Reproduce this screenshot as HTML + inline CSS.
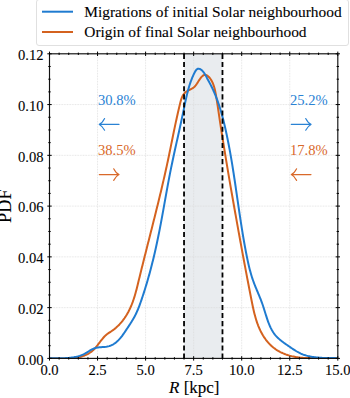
<!DOCTYPE html>
<html><head><meta charset="utf-8"><style>
html,body{margin:0;padding:0;background:#fff;width:350px;height:398px;overflow:hidden}
body{position:relative;font-family:"Liberation Serif",serif;color:#000}
.t{position:absolute;white-space:nowrap;line-height:1;-webkit-text-stroke:0.1px currentColor}
.yl{font-size:14.6px;text-align:right;width:40px;left:3.5px}
.xl{font-size:14.6px;text-align:center;width:40px}
.pc{font-size:14.6px;-webkit-text-stroke:0}
</style></head><body>
<svg width="350" height="398" style="position:absolute;left:0;top:0">
<rect x="184.04" y="53.8" width="38.44" height="304.60" fill="#e9ecef"/>
<line x1="97.55" y1="53.8" x2="97.55" y2="358.4" stroke="#dadada" stroke-width="0.8" stroke-dasharray="0.8,0.8"/>
<line x1="145.60" y1="53.8" x2="145.60" y2="358.4" stroke="#dadada" stroke-width="0.8" stroke-dasharray="0.8,0.8"/>
<line x1="193.65" y1="53.8" x2="193.65" y2="358.4" stroke="#dadada" stroke-width="0.8" stroke-dasharray="0.8,0.8"/>
<line x1="241.70" y1="53.8" x2="241.70" y2="358.4" stroke="#dadada" stroke-width="0.8" stroke-dasharray="0.8,0.8"/>
<line x1="289.75" y1="53.8" x2="289.75" y2="358.4" stroke="#dadada" stroke-width="0.8" stroke-dasharray="0.8,0.8"/>
<line x1="49.5" y1="307.63" x2="337.8" y2="307.63" stroke="#dadada" stroke-width="0.8" stroke-dasharray="0.8,0.8"/>
<line x1="49.5" y1="256.87" x2="337.8" y2="256.87" stroke="#dadada" stroke-width="0.8" stroke-dasharray="0.8,0.8"/>
<line x1="49.5" y1="206.10" x2="337.8" y2="206.10" stroke="#dadada" stroke-width="0.8" stroke-dasharray="0.8,0.8"/>
<line x1="49.5" y1="155.33" x2="337.8" y2="155.33" stroke="#dadada" stroke-width="0.8" stroke-dasharray="0.8,0.8"/>
<line x1="49.5" y1="104.57" x2="337.8" y2="104.57" stroke="#dadada" stroke-width="0.8" stroke-dasharray="0.8,0.8"/>
<defs><clipPath id="cp"><rect x="49.5" y="53.8" width="288.30" height="304.60"/></clipPath></defs>
<g clip-path="url(#cp)">
<path d="M49.52,358.29 L50.42,358.32 L51.33,358.36 L52.26,358.39 L53.20,358.43 L54.16,358.46 L55.13,358.50 L56.11,358.53 L57.10,358.57 L58.10,358.59 L59.12,358.62 L60.13,358.64 L61.16,358.65 L62.19,358.66 L63.23,358.66 L64.27,358.65 L65.32,358.64 L66.36,358.61 L67.41,358.57 L68.46,358.52 L69.51,358.46 L70.56,358.38 L71.61,358.29 L72.65,358.19 L73.69,358.07 L74.72,357.93 L75.75,357.77 L76.77,357.60 L77.79,357.41 L78.79,357.20 L79.79,356.96 L80.78,356.70 L81.75,356.43 L82.71,356.12 L83.66,355.80 L84.60,355.45 L85.52,355.07 L86.42,354.66 L87.31,354.23 L88.18,353.77 L89.03,353.28 L89.86,352.75 L90.67,352.20 L91.46,351.62 L92.23,351.00 L92.98,350.35 L93.70,349.66 L94.40,348.95 L95.08,348.21 L95.75,347.45 L96.40,346.66 L97.04,345.86 L97.67,345.05 L98.30,344.23 L98.92,343.41 L99.54,342.58 L100.16,341.75 L100.78,340.93 L101.41,340.12 L102.04,339.31 L102.69,338.53 L103.34,337.76 L104.01,337.01 L104.70,336.29 L105.41,335.59 L106.14,334.93 L106.89,334.31 L107.67,333.72 L108.46,333.15 L109.27,332.61 L110.09,332.07 L110.92,331.54 L111.74,330.99 L112.56,330.43 L113.37,329.85 L114.17,329.25 L114.95,328.62 L115.73,327.97 L116.49,327.30 L117.25,326.61 L117.99,325.90 L118.71,325.18 L119.43,324.44 L120.13,323.68 L120.81,322.91 L121.49,322.12 L122.14,321.32 L122.79,320.51 L123.41,319.69 L124.02,318.86 L124.62,318.02 L125.19,317.17 L125.76,316.31 L126.30,315.45 L126.83,314.59 L127.34,313.71 L127.83,312.83 L128.32,311.95 L128.78,311.06 L129.23,310.16 L129.67,309.26 L130.10,308.35 L130.51,307.44 L130.91,306.52 L131.30,305.60 L131.68,304.68 L132.04,303.75 L132.40,302.81 L132.75,301.88 L133.08,300.93 L133.41,299.99 L133.73,299.04 L134.04,298.09 L134.34,297.13 L134.63,296.18 L134.92,295.22 L135.20,294.25 L135.48,293.29 L135.75,292.32 L136.01,291.35 L136.27,290.38 L136.53,289.40 L136.78,288.43 L137.03,287.45 L137.27,286.48 L137.52,285.50 L137.76,284.52 L138.00,283.54 L138.23,282.56 L138.47,281.58 L138.71,280.60 L138.95,279.61 L139.18,278.63 L139.42,277.65 L139.66,276.67 L139.90,275.69 L140.14,274.71 L140.38,273.73 L140.62,272.75 L140.86,271.77 L141.11,270.79 L141.35,269.81 L141.59,268.83 L141.83,267.85 L142.08,266.87 L142.32,265.89 L142.56,264.91 L142.81,263.92 L143.05,262.94 L143.30,261.96 L143.54,260.98 L143.79,260.01 L144.03,259.03 L144.28,258.05 L144.53,257.07 L144.77,256.09 L145.02,255.11 L145.27,254.13 L145.51,253.15 L145.76,252.17 L146.01,251.19 L146.25,250.21 L146.50,249.23 L146.75,248.25 L147.00,247.27 L147.25,246.29 L147.49,245.31 L147.74,244.33 L147.99,243.35 L148.24,242.37 L148.49,241.39 L148.74,240.41 L148.98,239.43 L149.23,238.46 L149.48,237.48 L149.73,236.50 L149.98,235.52 L150.23,234.54 L150.47,233.56 L150.72,232.58 L150.97,231.60 L151.22,230.62 L151.47,229.64 L151.71,228.66 L151.96,227.68 L152.21,226.70 L152.46,225.72 L152.70,224.74 L152.95,223.76 L153.20,222.78 L153.44,221.81 L153.69,220.83 L153.94,219.85 L154.18,218.87 L154.43,217.89 L154.67,216.91 L154.92,215.93 L155.16,214.95 L155.41,213.97 L155.65,212.99 L155.90,212.01 L156.14,211.03 L156.38,210.05 L156.63,209.07 L156.87,208.09 L157.11,207.11 L157.35,206.13 L157.59,205.15 L157.84,204.17 L158.08,203.19 L158.32,202.20 L158.56,201.22 L158.79,200.24 L159.03,199.26 L159.27,198.28 L159.51,197.30 L159.75,196.32 L159.98,195.34 L160.22,194.36 L160.45,193.38 L160.69,192.39 L160.92,191.41 L161.16,190.43 L161.39,189.45 L161.62,188.47 L161.85,187.49 L162.08,186.50 L162.31,185.52 L162.54,184.54 L162.77,183.56 L163.00,182.58 L163.23,181.59 L163.46,180.61 L163.68,179.63 L163.91,178.64 L164.13,177.66 L164.36,176.68 L164.58,175.70 L164.80,174.71 L165.02,173.73 L165.24,172.74 L165.46,171.76 L165.68,170.78 L165.90,169.79 L166.12,168.81 L166.34,167.82 L166.55,166.84 L166.77,165.86 L166.98,164.87 L167.19,163.89 L167.40,162.90 L167.62,161.92 L167.82,160.93 L168.03,159.95 L168.24,158.96 L168.45,157.97 L168.66,156.99 L168.86,156.00 L169.07,155.02 L169.27,154.03 L169.47,153.04 L169.68,152.06 L169.88,151.07 L170.08,150.08 L170.28,149.10 L170.48,148.11 L170.68,147.12 L170.88,146.13 L171.08,145.15 L171.28,144.16 L171.48,143.17 L171.68,142.18 L171.88,141.20 L172.08,140.21 L172.29,139.22 L172.49,138.23 L172.69,137.24 L172.89,136.25 L173.09,135.26 L173.29,134.28 L173.50,133.29 L173.70,132.30 L173.90,131.31 L174.11,130.32 L174.31,129.33 L174.52,128.34 L174.73,127.35 L174.93,126.36 L175.14,125.37 L175.35,124.38 L175.56,123.39 L175.78,122.40 L175.99,121.41 L176.20,120.42 L176.42,119.43 L176.64,118.44 L176.85,117.45 L177.07,116.46 L177.30,115.47 L177.52,114.48 L177.74,113.49 L177.97,112.50 L178.20,111.51 L178.43,110.52 L178.66,109.53 L178.90,108.54 L179.13,107.55 L179.37,106.56 L179.61,105.57 L179.85,104.57 L180.10,103.58 L180.34,102.59 L180.59,101.60 L180.86,100.62 L181.14,99.65 L181.45,98.69 L181.79,97.75 L182.16,96.84 L182.59,95.96 L183.07,95.11 L183.61,94.31 L184.22,93.54 L184.90,92.83 L185.66,92.16 L186.48,91.55 L187.34,90.99 L188.23,90.48 L189.14,90.01 L190.05,89.56 L190.96,89.10 L191.85,88.63 L192.70,88.12 L193.52,87.56 L194.27,86.93 L194.98,86.22 L195.64,85.46 L196.26,84.64 L196.86,83.78 L197.44,82.89 L198.01,81.98 L198.59,81.05 L199.18,80.13 L199.79,79.21 L200.43,78.31 L201.11,77.44 L201.84,76.63 L202.59,75.93 L203.36,75.37 L204.15,75.02 L204.93,74.88 L205.71,74.95 L206.47,75.20 L207.22,75.60 L207.95,76.13 L208.65,76.76 L209.31,77.47 L209.94,78.24 L210.52,79.03 L211.07,79.86 L211.58,80.71 L212.05,81.59 L212.49,82.49 L212.89,83.42 L213.27,84.36 L213.61,85.32 L213.93,86.30 L214.23,87.29 L214.51,88.29 L214.77,89.30 L215.00,90.32 L215.23,91.34 L215.44,92.37 L215.64,93.39 L215.83,94.42 L216.01,95.44 L216.19,96.46 L216.36,97.48 L216.53,98.49 L216.69,99.49 L216.85,100.50 L217.01,101.50 L217.16,102.50 L217.32,103.49 L217.47,104.49 L217.61,105.48 L217.76,106.47 L217.90,107.46 L218.05,108.45 L218.19,109.44 L218.34,110.43 L218.48,111.42 L218.63,112.41 L218.78,113.40 L218.92,114.39 L219.07,115.38 L219.22,116.37 L219.37,117.36 L219.51,118.36 L219.66,119.35 L219.81,120.34 L219.96,121.33 L220.11,122.32 L220.26,123.32 L220.42,124.31 L220.57,125.30 L220.72,126.29 L220.87,127.29 L221.02,128.28 L221.18,129.27 L221.33,130.27 L221.49,131.26 L221.64,132.26 L221.80,133.25 L221.95,134.24 L222.11,135.24 L222.26,136.23 L222.42,137.23 L222.58,138.22 L222.74,139.22 L222.89,140.21 L223.05,141.21 L223.21,142.20 L223.37,143.20 L223.53,144.19 L223.69,145.19 L223.85,146.19 L224.01,147.18 L224.17,148.18 L224.33,149.17 L224.49,150.17 L224.66,151.17 L224.82,152.16 L224.98,153.16 L225.14,154.16 L225.31,155.15 L225.47,156.15 L225.63,157.15 L225.80,158.14 L225.96,159.14 L226.13,160.14 L226.29,161.13 L226.46,162.13 L226.63,163.13 L226.79,164.13 L226.96,165.12 L227.13,166.12 L227.29,167.12 L227.46,168.11 L227.63,169.11 L227.80,170.11 L227.96,171.11 L228.13,172.10 L228.30,173.10 L228.47,174.10 L228.64,175.10 L228.81,176.09 L228.98,177.09 L229.15,178.09 L229.32,179.09 L229.49,180.08 L229.66,181.08 L229.83,182.08 L230.01,183.07 L230.18,184.07 L230.35,185.07 L230.52,186.07 L230.69,187.06 L230.87,188.06 L231.04,189.06 L231.21,190.05 L231.39,191.05 L231.56,192.05 L231.73,193.04 L231.91,194.04 L232.08,195.04 L232.26,196.03 L232.43,197.03 L232.61,198.03 L232.78,199.02 L232.96,200.02 L233.13,201.01 L233.31,202.01 L233.48,203.00 L233.66,204.00 L233.84,205.00 L234.01,205.99 L234.19,206.99 L234.36,207.98 L234.54,208.98 L234.72,209.97 L234.90,210.97 L235.07,211.96 L235.25,212.95 L235.43,213.95 L235.61,214.94 L235.78,215.94 L235.96,216.93 L236.14,217.92 L236.32,218.92 L236.50,219.91 L236.67,220.90 L236.85,221.90 L237.03,222.89 L237.21,223.88 L237.39,224.87 L237.57,225.87 L237.75,226.86 L237.93,227.85 L238.11,228.84 L238.28,229.83 L238.46,230.82 L238.64,231.82 L238.82,232.81 L239.00,233.80 L239.18,234.79 L239.36,235.78 L239.54,236.77 L239.72,237.76 L239.90,238.75 L240.08,239.74 L240.26,240.72 L240.44,241.71 L240.63,242.70 L240.81,243.69 L240.99,244.68 L241.17,245.67 L241.35,246.66 L241.53,247.65 L241.71,248.64 L241.90,249.62 L242.08,250.61 L242.26,251.60 L242.44,252.59 L242.62,253.58 L242.81,254.57 L242.99,255.56 L243.17,256.54 L243.36,257.53 L243.54,258.52 L243.73,259.51 L243.91,260.50 L244.09,261.49 L244.28,262.48 L244.46,263.47 L244.65,264.46 L244.83,265.44 L245.02,266.43 L245.21,267.42 L245.39,268.41 L245.58,269.40 L245.77,270.39 L245.95,271.38 L246.14,272.37 L246.33,273.36 L246.52,274.36 L246.71,275.35 L246.89,276.34 L247.08,277.33 L247.27,278.32 L247.46,279.31 L247.65,280.30 L247.84,281.30 L248.03,282.29 L248.22,283.28 L248.42,284.28 L248.61,285.27 L248.80,286.26 L248.99,287.26 L249.19,288.25 L249.38,289.25 L249.57,290.24 L249.77,291.24 L249.96,292.24 L250.16,293.23 L250.35,294.23 L250.55,295.23 L250.74,296.22 L250.94,297.22 L251.14,298.22 L251.33,299.22 L251.53,300.22 L251.73,301.22 L251.93,302.22 L252.13,303.22 L252.34,304.22 L252.54,305.22 L252.75,306.21 L252.96,307.21 L253.18,308.21 L253.40,309.20 L253.63,310.19 L253.86,311.18 L254.09,312.17 L254.33,313.15 L254.58,314.14 L254.83,315.11 L255.10,316.09 L255.36,317.06 L255.64,318.03 L255.93,319.00 L256.22,319.96 L256.52,320.91 L256.84,321.86 L257.16,322.81 L257.49,323.75 L257.84,324.69 L258.19,325.62 L258.56,326.54 L258.94,327.46 L259.33,328.37 L259.74,329.28 L260.16,330.18 L260.59,331.07 L261.04,331.96 L261.50,332.83 L261.98,333.70 L262.47,334.57 L262.97,335.42 L263.50,336.26 L264.03,337.10 L264.59,337.92 L265.16,338.73 L265.74,339.53 L266.34,340.32 L266.96,341.10 L267.59,341.86 L268.24,342.61 L268.91,343.35 L269.59,344.07 L270.29,344.78 L271.01,345.47 L271.74,346.14 L272.49,346.80 L273.25,347.44 L274.03,348.06 L274.83,348.66 L275.65,349.25 L276.48,349.81 L277.34,350.36 L278.20,350.88 L279.09,351.38 L279.99,351.87 L280.90,352.33 L281.83,352.77 L282.77,353.20 L283.72,353.60 L284.68,353.98 L285.65,354.35 L286.62,354.69 L287.60,355.02 L288.59,355.33 L289.58,355.62 L290.58,355.88 L291.57,356.14 L292.57,356.37 L293.56,356.58 L294.56,356.78 L295.55,356.96 L296.55,357.13 L297.54,357.28 L298.54,357.41 L299.53,357.53 L300.53,357.64 L301.52,357.73 L302.52,357.82 L303.52,357.89 L304.51,357.95 L305.51,358.00 L306.51,358.04 L307.50,358.07 L308.50,358.10 L309.50,358.11 L310.50,358.12 L311.50,358.13 L312.50,358.13 L313.50,358.12 L314.50,358.11 L315.50,358.10 L316.50,358.08 L317.51,358.06 L318.51,358.05 L319.52,358.03 L320.52,358.01 L321.53,357.99 L322.54,357.97 L323.55,357.95 L324.56,357.94 L325.57,357.93 L326.58,357.92 L327.60,357.92 L328.61,357.93 L329.63,357.94 L330.65,357.95 L331.66,357.98 L332.69,358.01 L333.71,358.05 L334.73,358.10 L335.76,358.16 L336.78,358.23 L337.81,358.31" fill="none" stroke="#d4621f" stroke-width="2" stroke-linejoin="round"/>
<path d="M49.50,358.31 L50.51,358.29 L51.51,358.27 L52.52,358.25 L53.53,358.25 L54.55,358.24 L55.57,358.24 L56.59,358.24 L57.61,358.24 L58.63,358.24 L59.65,358.24 L60.67,358.23 L61.70,358.22 L62.72,358.20 L63.74,358.18 L64.76,358.14 L65.78,358.10 L66.80,358.05 L67.82,357.98 L68.83,357.91 L69.84,357.81 L70.85,357.71 L71.86,357.58 L72.86,357.44 L73.85,357.28 L74.85,357.09 L75.83,356.89 L76.81,356.66 L77.79,356.41 L78.75,356.13 L79.71,355.83 L80.67,355.50 L81.61,355.14 L82.54,354.75 L83.47,354.33 L84.38,353.87 L85.29,353.38 L86.18,352.87 L87.07,352.34 L87.96,351.80 L88.85,351.25 L89.73,350.72 L90.62,350.20 L91.52,349.70 L92.43,349.23 L93.34,348.80 L94.27,348.42 L95.22,348.09 L96.18,347.83 L97.16,347.62 L98.16,347.46 L99.16,347.34 L100.18,347.25 L101.20,347.17 L102.22,347.11 L103.24,347.04 L104.26,346.97 L105.27,346.88 L106.28,346.76 L107.27,346.60 L108.25,346.39 L109.22,346.12 L110.16,345.80 L111.09,345.42 L112.00,344.99 L112.89,344.52 L113.76,344.00 L114.60,343.44 L115.43,342.84 L116.23,342.21 L117.00,341.55 L117.75,340.86 L118.47,340.16 L119.17,339.43 L119.85,338.68 L120.51,337.92 L121.14,337.13 L121.77,336.34 L122.37,335.53 L122.97,334.71 L123.55,333.88 L124.13,333.05 L124.70,332.21 L125.27,331.36 L125.83,330.51 L126.39,329.66 L126.96,328.80 L127.52,327.95 L128.09,327.10 L128.65,326.24 L129.22,325.39 L129.78,324.53 L130.33,323.67 L130.88,322.81 L131.43,321.94 L131.96,321.07 L132.49,320.20 L133.01,319.32 L133.53,318.44 L134.03,317.56 L134.52,316.67 L134.99,315.77 L135.45,314.87 L135.90,313.96 L136.34,313.05 L136.76,312.13 L137.17,311.20 L137.57,310.27 L137.96,309.34 L138.35,308.40 L138.72,307.46 L139.08,306.52 L139.44,305.57 L139.79,304.62 L140.13,303.67 L140.47,302.71 L140.81,301.76 L141.14,300.80 L141.47,299.84 L141.80,298.88 L142.12,297.92 L142.44,296.96 L142.76,296.00 L143.08,295.03 L143.40,294.07 L143.71,293.11 L144.02,292.14 L144.33,291.18 L144.63,290.21 L144.94,289.24 L145.24,288.27 L145.54,287.30 L145.83,286.33 L146.13,285.36 L146.42,284.39 L146.71,283.42 L147.00,282.44 L147.29,281.47 L147.57,280.50 L147.85,279.52 L148.13,278.55 L148.41,277.57 L148.68,276.59 L148.96,275.61 L149.23,274.64 L149.50,273.66 L149.76,272.68 L150.03,271.70 L150.29,270.72 L150.55,269.73 L150.81,268.75 L151.07,267.77 L151.33,266.79 L151.58,265.80 L151.83,264.82 L152.08,263.83 L152.33,262.85 L152.57,261.86 L152.82,260.88 L153.06,259.89 L153.30,258.90 L153.54,257.91 L153.78,256.93 L154.01,255.94 L154.24,254.95 L154.48,253.96 L154.71,252.97 L154.93,251.98 L155.16,250.98 L155.39,249.99 L155.61,249.00 L155.83,248.01 L156.05,247.02 L156.27,246.02 L156.48,245.03 L156.70,244.04 L156.91,243.04 L157.12,242.05 L157.33,241.05 L157.54,240.06 L157.75,239.06 L157.96,238.06 L158.16,237.07 L158.36,236.07 L158.56,235.07 L158.77,234.08 L158.96,233.08 L159.16,232.08 L159.36,231.09 L159.55,230.09 L159.75,229.09 L159.94,228.09 L160.13,227.09 L160.32,226.09 L160.51,225.09 L160.70,224.09 L160.89,223.10 L161.08,222.10 L161.26,221.10 L161.45,220.10 L161.64,219.10 L161.82,218.10 L162.00,217.10 L162.19,216.10 L162.37,215.09 L162.55,214.09 L162.73,213.09 L162.91,212.09 L163.10,211.09 L163.28,210.09 L163.46,209.09 L163.64,208.09 L163.82,207.09 L163.99,206.09 L164.17,205.09 L164.35,204.09 L164.53,203.09 L164.71,202.09 L164.89,201.09 L165.07,200.08 L165.25,199.08 L165.43,198.08 L165.61,197.08 L165.79,196.08 L165.97,195.08 L166.15,194.08 L166.33,193.08 L166.51,192.08 L166.69,191.08 L166.87,190.08 L167.05,189.08 L167.24,188.09 L167.42,187.09 L167.60,186.09 L167.79,185.09 L167.97,184.09 L168.16,183.09 L168.35,182.09 L168.53,181.10 L168.72,180.10 L168.91,179.10 L169.10,178.11 L169.29,177.11 L169.48,176.11 L169.68,175.12 L169.87,174.12 L170.07,173.13 L170.26,172.13 L170.46,171.14 L170.66,170.14 L170.86,169.15 L171.06,168.15 L171.26,167.16 L171.47,166.17 L171.67,165.17 L171.88,164.18 L172.09,163.19 L172.29,162.20 L172.50,161.20 L172.71,160.21 L172.92,159.22 L173.14,158.23 L173.35,157.24 L173.56,156.25 L173.77,155.26 L173.99,154.27 L174.20,153.28 L174.42,152.28 L174.64,151.29 L174.85,150.30 L175.07,149.31 L175.29,148.32 L175.51,147.33 L175.73,146.34 L175.95,145.35 L176.16,144.36 L176.38,143.37 L176.60,142.38 L176.82,141.39 L177.04,140.40 L177.27,139.41 L177.49,138.42 L177.71,137.43 L177.93,136.44 L178.15,135.45 L178.37,134.46 L178.59,133.46 L178.81,132.47 L179.03,131.48 L179.25,130.49 L179.47,129.50 L179.69,128.50 L179.91,127.51 L180.12,126.52 L180.34,125.53 L180.56,124.53 L180.78,123.54 L180.99,122.54 L181.21,121.55 L181.43,120.55 L181.64,119.56 L181.86,118.56 L182.07,117.57 L182.28,116.57 L182.49,115.57 L182.71,114.58 L182.92,113.58 L183.13,112.58 L183.33,111.58 L183.54,110.58 L183.75,109.58 L183.95,108.58 L184.16,107.58 L184.36,106.58 L184.57,105.58 L184.78,104.58 L184.98,103.58 L185.19,102.58 L185.40,101.58 L185.62,100.58 L185.83,99.58 L186.05,98.59 L186.27,97.59 L186.50,96.60 L186.73,95.60 L186.96,94.61 L187.20,93.62 L187.45,92.64 L187.70,91.65 L187.96,90.67 L188.22,89.69 L188.50,88.71 L188.77,87.73 L189.06,86.76 L189.36,85.79 L189.66,84.82 L189.97,83.86 L190.30,82.90 L190.63,81.95 L190.97,80.99 L191.32,80.04 L191.69,79.10 L192.06,78.16 L192.45,77.22 L192.85,76.29 L193.26,75.37 L193.69,74.44 L194.13,73.53 L194.58,72.62 L195.05,71.72 L195.55,70.88 L196.08,70.13 L196.66,69.50 L197.29,69.03 L197.98,68.75 L198.75,68.70 L199.57,68.88 L200.43,69.27 L201.29,69.85 L202.12,70.57 L202.92,71.41 L203.67,72.33 L204.35,73.28 L204.97,74.24 L205.52,75.20 L206.03,76.15 L206.52,77.09 L206.99,78.02 L207.46,78.94 L207.94,79.84 L208.43,80.73 L208.92,81.61 L209.40,82.49 L209.88,83.37 L210.35,84.26 L210.81,85.15 L211.26,86.05 L211.71,86.95 L212.15,87.85 L212.58,88.76 L213.00,89.67 L213.42,90.58 L213.83,91.50 L214.23,92.42 L214.63,93.35 L215.02,94.28 L215.40,95.21 L215.77,96.15 L216.14,97.08 L216.51,98.02 L216.86,98.97 L217.21,99.92 L217.56,100.87 L217.90,101.82 L218.23,102.77 L218.56,103.73 L218.88,104.69 L219.19,105.65 L219.51,106.62 L219.81,107.58 L220.11,108.55 L220.41,109.52 L220.70,110.50 L220.99,111.47 L221.27,112.45 L221.55,113.43 L221.82,114.41 L222.09,115.39 L222.36,116.37 L222.62,117.35 L222.88,118.34 L223.13,119.33 L223.38,120.32 L223.63,121.30 L223.87,122.29 L224.12,123.29 L224.35,124.28 L224.59,125.27 L224.82,126.26 L225.05,127.26 L225.28,128.25 L225.50,129.25 L225.72,130.24 L225.94,131.24 L226.16,132.23 L226.37,133.23 L226.59,134.22 L226.80,135.22 L227.01,136.22 L227.21,137.21 L227.42,138.21 L227.62,139.21 L227.82,140.21 L228.02,141.20 L228.22,142.20 L228.41,143.20 L228.61,144.20 L228.80,145.20 L228.99,146.20 L229.18,147.20 L229.37,148.19 L229.55,149.19 L229.73,150.19 L229.92,151.19 L230.10,152.19 L230.28,153.19 L230.45,154.19 L230.63,155.19 L230.80,156.19 L230.98,157.19 L231.15,158.20 L231.32,159.20 L231.49,160.20 L231.66,161.20 L231.83,162.20 L231.99,163.20 L232.16,164.20 L232.32,165.21 L232.48,166.21 L232.64,167.21 L232.81,168.21 L232.96,169.21 L233.12,170.22 L233.28,171.22 L233.44,172.22 L233.59,173.22 L233.75,174.23 L233.90,175.23 L234.06,176.23 L234.21,177.24 L234.36,178.24 L234.51,179.24 L234.67,180.25 L234.82,181.25 L234.97,182.25 L235.12,183.26 L235.26,184.26 L235.41,185.26 L235.56,186.27 L235.71,187.27 L235.86,188.28 L236.00,189.28 L236.15,190.28 L236.30,191.29 L236.44,192.29 L236.59,193.30 L236.73,194.30 L236.88,195.31 L237.03,196.31 L237.17,197.31 L237.32,198.32 L237.46,199.32 L237.61,200.33 L237.75,201.33 L237.90,202.34 L238.05,203.34 L238.19,204.34 L238.34,205.35 L238.49,206.35 L238.63,207.36 L238.78,208.36 L238.93,209.37 L239.07,210.37 L239.22,211.38 L239.37,212.38 L239.52,213.38 L239.67,214.39 L239.82,215.39 L239.97,216.40 L240.12,217.40 L240.27,218.40 L240.43,219.41 L240.58,220.41 L240.73,221.42 L240.89,222.42 L241.04,223.42 L241.20,224.43 L241.36,225.43 L241.52,226.44 L241.67,227.44 L241.83,228.44 L242.00,229.45 L242.16,230.45 L242.32,231.45 L242.48,232.46 L242.65,233.46 L242.82,234.46 L242.98,235.46 L243.15,236.47 L243.32,237.47 L243.49,238.47 L243.67,239.47 L243.84,240.48 L244.02,241.48 L244.19,242.48 L244.37,243.48 L244.55,244.48 L244.73,245.49 L244.91,246.49 L245.10,247.49 L245.28,248.49 L245.47,249.49 L245.66,250.49 L245.85,251.49 L246.04,252.49 L246.24,253.49 L246.44,254.49 L246.63,255.49 L246.83,256.49 L247.04,257.49 L247.24,258.49 L247.45,259.49 L247.66,260.49 L247.87,261.48 L248.09,262.48 L248.31,263.47 L248.54,264.47 L248.77,265.46 L249.00,266.45 L249.24,267.43 L249.48,268.42 L249.73,269.40 L249.99,270.38 L250.25,271.36 L250.52,272.34 L250.79,273.31 L251.07,274.28 L251.36,275.25 L251.66,276.22 L251.96,277.18 L252.27,278.13 L252.59,279.09 L252.91,280.04 L253.25,280.99 L253.59,281.93 L253.94,282.87 L254.30,283.81 L254.66,284.74 L255.03,285.68 L255.40,286.61 L255.78,287.54 L256.16,288.47 L256.55,289.40 L256.93,290.32 L257.32,291.25 L257.71,292.18 L258.10,293.11 L258.49,294.05 L258.87,294.98 L259.26,295.92 L259.64,296.85 L260.03,297.80 L260.40,298.74 L260.78,299.69 L261.15,300.64 L261.51,301.60 L261.87,302.56 L262.22,303.53 L262.56,304.50 L262.90,305.48 L263.23,306.46 L263.55,307.45 L263.87,308.44 L264.18,309.43 L264.49,310.43 L264.80,311.43 L265.11,312.43 L265.42,313.43 L265.73,314.43 L266.04,315.42 L266.35,316.42 L266.67,317.41 L266.99,318.39 L267.32,319.38 L267.66,320.35 L268.00,321.32 L268.36,322.29 L268.72,323.24 L269.10,324.19 L269.49,325.13 L269.89,326.05 L270.31,326.97 L270.74,327.87 L271.19,328.76 L271.66,329.64 L272.15,330.51 L272.65,331.36 L273.18,332.19 L273.73,333.00 L274.30,333.80 L274.90,334.59 L275.52,335.35 L276.17,336.09 L276.84,336.81 L277.53,337.52 L278.25,338.21 L278.98,338.88 L279.74,339.55 L280.51,340.19 L281.30,340.83 L282.10,341.45 L282.91,342.07 L283.73,342.68 L284.56,343.27 L285.40,343.87 L286.24,344.46 L287.09,345.04 L287.94,345.63 L288.79,346.21 L289.63,346.79 L290.48,347.37 L291.32,347.95 L292.17,348.52 L293.02,349.09 L293.87,349.64 L294.72,350.19 L295.58,350.73 L296.44,351.25 L297.31,351.75 L298.18,352.24 L299.06,352.71 L299.96,353.15 L300.86,353.58 L301.77,353.97 L302.69,354.34 L303.62,354.69 L304.57,355.02 L305.52,355.32 L306.47,355.61 L307.44,355.87 L308.41,356.11 L309.40,356.33 L310.38,356.54 L311.38,356.73 L312.37,356.90 L313.38,357.05 L314.39,357.19 L315.40,357.32 L316.42,357.43 L317.44,357.53 L318.46,357.62 L319.48,357.70 L320.51,357.77 L321.54,357.83 L322.57,357.88 L323.60,357.92 L324.63,357.96 L325.65,357.99 L326.68,358.01 L327.71,358.03 L328.73,358.05 L329.76,358.06 L330.78,358.07 L331.79,358.08 L332.81,358.09 L333.81,358.10 L334.82,358.11 L335.82,358.13 L336.81,358.14 L337.80,358.16" fill="none" stroke="#1f7bd0" stroke-width="2" stroke-linejoin="round"/>
</g>
<line x1="184.04" y1="53.8" x2="184.04" y2="358.4" stroke="#000" stroke-width="1.8" stroke-dasharray="5.1,3.0"/>
<line x1="222.48" y1="53.8" x2="222.48" y2="358.4" stroke="#000" stroke-width="1.8" stroke-dasharray="5.1,3.0"/>
<rect x="49.5" y="53.8" width="288.30" height="304.60" fill="none" stroke="#111" stroke-width="1.15"/>
<line x1="49.50" y1="356.2" x2="49.50" y2="360.59999999999997" stroke="#000" stroke-width="1"/>
<line x1="49.50" y1="51.599999999999994" x2="49.50" y2="56.0" stroke="#000" stroke-width="1"/>
<line x1="59.11" y1="357.2" x2="59.11" y2="359.59999999999997" stroke="#000" stroke-width="1"/>
<line x1="59.11" y1="52.599999999999994" x2="59.11" y2="55.0" stroke="#000" stroke-width="1"/>
<line x1="68.72" y1="357.2" x2="68.72" y2="359.59999999999997" stroke="#000" stroke-width="1"/>
<line x1="68.72" y1="52.599999999999994" x2="68.72" y2="55.0" stroke="#000" stroke-width="1"/>
<line x1="78.33" y1="357.2" x2="78.33" y2="359.59999999999997" stroke="#000" stroke-width="1"/>
<line x1="78.33" y1="52.599999999999994" x2="78.33" y2="55.0" stroke="#000" stroke-width="1"/>
<line x1="87.94" y1="357.2" x2="87.94" y2="359.59999999999997" stroke="#000" stroke-width="1"/>
<line x1="87.94" y1="52.599999999999994" x2="87.94" y2="55.0" stroke="#000" stroke-width="1"/>
<line x1="97.55" y1="356.2" x2="97.55" y2="360.59999999999997" stroke="#000" stroke-width="1"/>
<line x1="97.55" y1="51.599999999999994" x2="97.55" y2="56.0" stroke="#000" stroke-width="1"/>
<line x1="107.16" y1="357.2" x2="107.16" y2="359.59999999999997" stroke="#000" stroke-width="1"/>
<line x1="107.16" y1="52.599999999999994" x2="107.16" y2="55.0" stroke="#000" stroke-width="1"/>
<line x1="116.77" y1="357.2" x2="116.77" y2="359.59999999999997" stroke="#000" stroke-width="1"/>
<line x1="116.77" y1="52.599999999999994" x2="116.77" y2="55.0" stroke="#000" stroke-width="1"/>
<line x1="126.38" y1="357.2" x2="126.38" y2="359.59999999999997" stroke="#000" stroke-width="1"/>
<line x1="126.38" y1="52.599999999999994" x2="126.38" y2="55.0" stroke="#000" stroke-width="1"/>
<line x1="135.99" y1="357.2" x2="135.99" y2="359.59999999999997" stroke="#000" stroke-width="1"/>
<line x1="135.99" y1="52.599999999999994" x2="135.99" y2="55.0" stroke="#000" stroke-width="1"/>
<line x1="145.60" y1="356.2" x2="145.60" y2="360.59999999999997" stroke="#000" stroke-width="1"/>
<line x1="145.60" y1="51.599999999999994" x2="145.60" y2="56.0" stroke="#000" stroke-width="1"/>
<line x1="155.21" y1="357.2" x2="155.21" y2="359.59999999999997" stroke="#000" stroke-width="1"/>
<line x1="155.21" y1="52.599999999999994" x2="155.21" y2="55.0" stroke="#000" stroke-width="1"/>
<line x1="164.82" y1="357.2" x2="164.82" y2="359.59999999999997" stroke="#000" stroke-width="1"/>
<line x1="164.82" y1="52.599999999999994" x2="164.82" y2="55.0" stroke="#000" stroke-width="1"/>
<line x1="174.43" y1="357.2" x2="174.43" y2="359.59999999999997" stroke="#000" stroke-width="1"/>
<line x1="174.43" y1="52.599999999999994" x2="174.43" y2="55.0" stroke="#000" stroke-width="1"/>
<line x1="184.04" y1="357.2" x2="184.04" y2="359.59999999999997" stroke="#000" stroke-width="1"/>
<line x1="184.04" y1="52.599999999999994" x2="184.04" y2="55.0" stroke="#000" stroke-width="1"/>
<line x1="193.65" y1="356.2" x2="193.65" y2="360.59999999999997" stroke="#000" stroke-width="1"/>
<line x1="193.65" y1="51.599999999999994" x2="193.65" y2="56.0" stroke="#000" stroke-width="1"/>
<line x1="203.26" y1="357.2" x2="203.26" y2="359.59999999999997" stroke="#000" stroke-width="1"/>
<line x1="203.26" y1="52.599999999999994" x2="203.26" y2="55.0" stroke="#000" stroke-width="1"/>
<line x1="212.87" y1="357.2" x2="212.87" y2="359.59999999999997" stroke="#000" stroke-width="1"/>
<line x1="212.87" y1="52.599999999999994" x2="212.87" y2="55.0" stroke="#000" stroke-width="1"/>
<line x1="222.48" y1="357.2" x2="222.48" y2="359.59999999999997" stroke="#000" stroke-width="1"/>
<line x1="222.48" y1="52.599999999999994" x2="222.48" y2="55.0" stroke="#000" stroke-width="1"/>
<line x1="232.09" y1="357.2" x2="232.09" y2="359.59999999999997" stroke="#000" stroke-width="1"/>
<line x1="232.09" y1="52.599999999999994" x2="232.09" y2="55.0" stroke="#000" stroke-width="1"/>
<line x1="241.70" y1="356.2" x2="241.70" y2="360.59999999999997" stroke="#000" stroke-width="1"/>
<line x1="241.70" y1="51.599999999999994" x2="241.70" y2="56.0" stroke="#000" stroke-width="1"/>
<line x1="251.31" y1="357.2" x2="251.31" y2="359.59999999999997" stroke="#000" stroke-width="1"/>
<line x1="251.31" y1="52.599999999999994" x2="251.31" y2="55.0" stroke="#000" stroke-width="1"/>
<line x1="260.92" y1="357.2" x2="260.92" y2="359.59999999999997" stroke="#000" stroke-width="1"/>
<line x1="260.92" y1="52.599999999999994" x2="260.92" y2="55.0" stroke="#000" stroke-width="1"/>
<line x1="270.53" y1="357.2" x2="270.53" y2="359.59999999999997" stroke="#000" stroke-width="1"/>
<line x1="270.53" y1="52.599999999999994" x2="270.53" y2="55.0" stroke="#000" stroke-width="1"/>
<line x1="280.14" y1="357.2" x2="280.14" y2="359.59999999999997" stroke="#000" stroke-width="1"/>
<line x1="280.14" y1="52.599999999999994" x2="280.14" y2="55.0" stroke="#000" stroke-width="1"/>
<line x1="289.75" y1="356.2" x2="289.75" y2="360.59999999999997" stroke="#000" stroke-width="1"/>
<line x1="289.75" y1="51.599999999999994" x2="289.75" y2="56.0" stroke="#000" stroke-width="1"/>
<line x1="299.36" y1="357.2" x2="299.36" y2="359.59999999999997" stroke="#000" stroke-width="1"/>
<line x1="299.36" y1="52.599999999999994" x2="299.36" y2="55.0" stroke="#000" stroke-width="1"/>
<line x1="308.97" y1="357.2" x2="308.97" y2="359.59999999999997" stroke="#000" stroke-width="1"/>
<line x1="308.97" y1="52.599999999999994" x2="308.97" y2="55.0" stroke="#000" stroke-width="1"/>
<line x1="318.58" y1="357.2" x2="318.58" y2="359.59999999999997" stroke="#000" stroke-width="1"/>
<line x1="318.58" y1="52.599999999999994" x2="318.58" y2="55.0" stroke="#000" stroke-width="1"/>
<line x1="328.19" y1="357.2" x2="328.19" y2="359.59999999999997" stroke="#000" stroke-width="1"/>
<line x1="328.19" y1="52.599999999999994" x2="328.19" y2="55.0" stroke="#000" stroke-width="1"/>
<line x1="337.80" y1="356.2" x2="337.80" y2="360.59999999999997" stroke="#000" stroke-width="1"/>
<line x1="337.80" y1="51.599999999999994" x2="337.80" y2="56.0" stroke="#000" stroke-width="1"/>
<line x1="47.3" y1="358.40" x2="51.7" y2="358.40" stroke="#000" stroke-width="1"/>
<line x1="335.6" y1="358.40" x2="340.0" y2="358.40" stroke="#000" stroke-width="1"/>
<line x1="48.3" y1="345.71" x2="50.7" y2="345.71" stroke="#000" stroke-width="1"/>
<line x1="336.6" y1="345.71" x2="339.0" y2="345.71" stroke="#000" stroke-width="1"/>
<line x1="48.3" y1="333.02" x2="50.7" y2="333.02" stroke="#000" stroke-width="1"/>
<line x1="336.6" y1="333.02" x2="339.0" y2="333.02" stroke="#000" stroke-width="1"/>
<line x1="48.3" y1="320.32" x2="50.7" y2="320.32" stroke="#000" stroke-width="1"/>
<line x1="336.6" y1="320.32" x2="339.0" y2="320.32" stroke="#000" stroke-width="1"/>
<line x1="47.3" y1="307.63" x2="51.7" y2="307.63" stroke="#000" stroke-width="1"/>
<line x1="335.6" y1="307.63" x2="340.0" y2="307.63" stroke="#000" stroke-width="1"/>
<line x1="48.3" y1="294.94" x2="50.7" y2="294.94" stroke="#000" stroke-width="1"/>
<line x1="336.6" y1="294.94" x2="339.0" y2="294.94" stroke="#000" stroke-width="1"/>
<line x1="48.3" y1="282.25" x2="50.7" y2="282.25" stroke="#000" stroke-width="1"/>
<line x1="336.6" y1="282.25" x2="339.0" y2="282.25" stroke="#000" stroke-width="1"/>
<line x1="48.3" y1="269.56" x2="50.7" y2="269.56" stroke="#000" stroke-width="1"/>
<line x1="336.6" y1="269.56" x2="339.0" y2="269.56" stroke="#000" stroke-width="1"/>
<line x1="47.3" y1="256.87" x2="51.7" y2="256.87" stroke="#000" stroke-width="1"/>
<line x1="335.6" y1="256.87" x2="340.0" y2="256.87" stroke="#000" stroke-width="1"/>
<line x1="48.3" y1="244.18" x2="50.7" y2="244.18" stroke="#000" stroke-width="1"/>
<line x1="336.6" y1="244.18" x2="339.0" y2="244.18" stroke="#000" stroke-width="1"/>
<line x1="48.3" y1="231.48" x2="50.7" y2="231.48" stroke="#000" stroke-width="1"/>
<line x1="336.6" y1="231.48" x2="339.0" y2="231.48" stroke="#000" stroke-width="1"/>
<line x1="48.3" y1="218.79" x2="50.7" y2="218.79" stroke="#000" stroke-width="1"/>
<line x1="336.6" y1="218.79" x2="339.0" y2="218.79" stroke="#000" stroke-width="1"/>
<line x1="47.3" y1="206.10" x2="51.7" y2="206.10" stroke="#000" stroke-width="1"/>
<line x1="335.6" y1="206.10" x2="340.0" y2="206.10" stroke="#000" stroke-width="1"/>
<line x1="48.3" y1="193.41" x2="50.7" y2="193.41" stroke="#000" stroke-width="1"/>
<line x1="336.6" y1="193.41" x2="339.0" y2="193.41" stroke="#000" stroke-width="1"/>
<line x1="48.3" y1="180.72" x2="50.7" y2="180.72" stroke="#000" stroke-width="1"/>
<line x1="336.6" y1="180.72" x2="339.0" y2="180.72" stroke="#000" stroke-width="1"/>
<line x1="48.3" y1="168.03" x2="50.7" y2="168.03" stroke="#000" stroke-width="1"/>
<line x1="336.6" y1="168.03" x2="339.0" y2="168.03" stroke="#000" stroke-width="1"/>
<line x1="47.3" y1="155.33" x2="51.7" y2="155.33" stroke="#000" stroke-width="1"/>
<line x1="335.6" y1="155.33" x2="340.0" y2="155.33" stroke="#000" stroke-width="1"/>
<line x1="48.3" y1="142.64" x2="50.7" y2="142.64" stroke="#000" stroke-width="1"/>
<line x1="336.6" y1="142.64" x2="339.0" y2="142.64" stroke="#000" stroke-width="1"/>
<line x1="48.3" y1="129.95" x2="50.7" y2="129.95" stroke="#000" stroke-width="1"/>
<line x1="336.6" y1="129.95" x2="339.0" y2="129.95" stroke="#000" stroke-width="1"/>
<line x1="48.3" y1="117.26" x2="50.7" y2="117.26" stroke="#000" stroke-width="1"/>
<line x1="336.6" y1="117.26" x2="339.0" y2="117.26" stroke="#000" stroke-width="1"/>
<line x1="47.3" y1="104.57" x2="51.7" y2="104.57" stroke="#000" stroke-width="1"/>
<line x1="335.6" y1="104.57" x2="340.0" y2="104.57" stroke="#000" stroke-width="1"/>
<line x1="48.3" y1="91.88" x2="50.7" y2="91.88" stroke="#000" stroke-width="1"/>
<line x1="336.6" y1="91.88" x2="339.0" y2="91.88" stroke="#000" stroke-width="1"/>
<line x1="48.3" y1="79.18" x2="50.7" y2="79.18" stroke="#000" stroke-width="1"/>
<line x1="336.6" y1="79.18" x2="339.0" y2="79.18" stroke="#000" stroke-width="1"/>
<line x1="48.3" y1="66.49" x2="50.7" y2="66.49" stroke="#000" stroke-width="1"/>
<line x1="336.6" y1="66.49" x2="339.0" y2="66.49" stroke="#000" stroke-width="1"/>
<line x1="47.3" y1="53.80" x2="51.7" y2="53.80" stroke="#000" stroke-width="1"/>
<line x1="335.6" y1="53.80" x2="340.0" y2="53.80" stroke="#000" stroke-width="1"/>
</svg>
<div class="t yl" style="top:352.65px">0.00</div>
<div class="t yl" style="top:301.88px">0.02</div>
<div class="t yl" style="top:251.12px">0.04</div>
<div class="t yl" style="top:200.35px">0.06</div>
<div class="t yl" style="top:149.58px">0.08</div>
<div class="t yl" style="top:98.82px">0.10</div>
<div class="t yl" style="top:48.05px">0.12</div>
<div class="t xl" style="left:29.50px;top:362.50px">0.0</div>
<div class="t xl" style="left:77.55px;top:362.50px">2.5</div>
<div class="t xl" style="left:125.60px;top:362.50px">5.0</div>
<div class="t xl" style="left:173.65px;top:362.50px">7.5</div>
<div class="t xl" style="left:221.70px;top:362.50px">10.0</div>
<div class="t xl" style="left:269.75px;top:362.50px">12.5</div>
<div class="t xl" style="left:317.80px;top:362.50px">15.0</div>
<div class="t" style="font-size:18.3px;left:-19.7px;top:197.3px;transform:rotate(-90deg);transform-origin:50% 50%;width:50px;text-align:center">PDF</div>
<div class="t" style="font-size:17px;left:169px;top:379px"><i>R</i> [kpc]</div>
<div class="t" style="left:36.3px;top:-0.6px;width:310.4px;height:44.6px;border:1px solid #e0e0e0;border-radius:3px;background:rgba(255,255,255,0.8)"></div>
<svg width="350" height="50" style="position:absolute;left:0;top:0">
<line x1="42" y1="11.7" x2="73" y2="11.7" stroke="#1f7bd0" stroke-width="2"/>
<line x1="42" y1="32.0" x2="73" y2="32.0" stroke="#d4621f" stroke-width="2"/>
</svg>
<div class="t" style="font-size:15.4px;left:84.3px;top:3.5px">Migrations of initial Solar neighbourhood</div>
<div class="t" style="font-size:15.4px;left:84.3px;top:24.4px">Origin of final Solar neighbourhood</div>
<div class="t pc" style="left:98px;top:92.6px;color:#2a82d4">30.8%</div>
<div class="t pc" style="left:98px;top:143.3px;color:#d9692a">38.5%</div>
<div class="t pc" style="left:290px;top:92.6px;color:#2a82d4">25.2%</div>
<div class="t pc" style="left:290px;top:143.3px;color:#d9692a">17.8%</div>
<svg width="350" height="398" style="position:absolute;left:0;top:0">
<g fill="none" stroke-width="1.15" stroke-linecap="round" stroke-linejoin="round">
<path d="M99.3,124.4 H119 M104.6,118.6 Q102.2,123.2 99.3,124.4 Q102.2,125.8 104.6,130.2" stroke="#2a82d4"/>
<path d="M99.3,174.6 H119 M113.7,168.8 Q116.1,173.4 119,174.6 Q116.1,176 113.7,180.4" stroke="#d9692a"/>
<path d="M291.3,124.4 H311 M305.7,118.6 Q308.1,123.2 311,124.4 Q308.1,125.8 305.7,130.2" stroke="#2a82d4"/>
<path d="M291.3,174.6 H311 M296.6,168.8 Q294.2,173.4 291.3,174.6 Q294.2,176 296.6,180.4" stroke="#d9692a"/>
</g></svg>
</body></html>
